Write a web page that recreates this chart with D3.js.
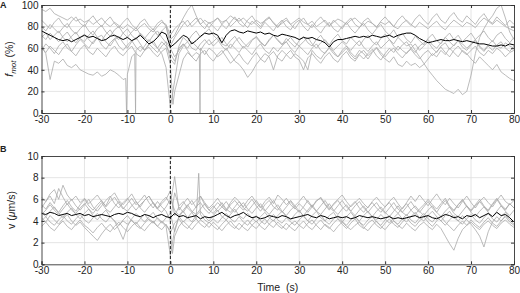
<!DOCTYPE html>
<html>
<head>
<meta charset="utf-8">
<script src="https://d3js.org/d3.v7.min.js"></script>
<style>
  body { margin: 0; background: #fff; }
  text { font-family: Arial, "Liberation Sans", sans-serif; fill: #222; }
</style>
</head>
<body>
<script>
// sample times (s), one value per second
const time = d3.range(-30, 81);
const xTicks = [-30, -20, -10, 0, 10, 20, 30, 40, 50, 60, 70, 80];
const fmotTicks = [0, 20, 40, 60, 80, 100];
const vTicks = [0, 2, 4, 6, 8, 10];

// panel A: fraction motile (%) per cell
const fmotCell1 = [96,94,97,92,90,88,86,89,85,87, 84,86,82,85,88,83,80,84,81,78, 82,79,76,80,83,78,75,80,84,82,
  72,78,82,85,80,84,88,82,86,83, 85,88,84,86,90,87,85,88,84,82, 86,83,85,88,84,80,83,86,82,85,
  88,84,82,85,80,83,86,81,84,87, 85,82,86,88,84,81,85,83,80,84, 82,85,80,78,83,86,82,79,84,81,
  78,82,85,80,77,82,86,83,80,84, 82,79,84,88,85,82,86,83,80,78, 76];
const fmotCell2 = [62,55,31,48,46,50,44,42,45,40, 38,36,35,38,34,36,40,38,35,31, 36,52,58,62,58,64,60,56,62,66,
  60,52,58,64,60,66,62,58,64,68, 62,66,70,64,60,66,70,65,61,67, 71,66,62,68,72,67,63,69,65,61,
  67,71,65,62,68,72,66,63,69,73, 67,64,70,66,62,68,72,66,63,69, 73,68,64,70,74,68,65,71,67,63,
  69,73,67,64,70,74,68,72,66,70, 74,68,72,76,70,66,72,75,69,65, 70];
const fmotCell3 = [72,68,74,70,66,71,75,69,65,70, 73,68,64,70,72,66,62,68,71,65, 60,66,70,64,58,63,67,60,55,42,
  5,30,55,62,66,60,58,64,68,63, 66,70,64,62,67,71,65,60,64,68, 70,65,62,67,72,68,64,66,70,65,
  62,66,70,64,60,65,68,63,58,62, 66,62,58,63,67,61,57,62,66,60, 64,68,62,58,63,66,60,56,62,65,
  68,63,60,65,70,66,62,67,64,60, 64,68,62,58,63,67,62,60,65,62, 60];
const fmotCell4 = [58,64,60,55,62,66,60,57,63,68, 64,60,66,70,63,59,65,69,62,58, 63,67,61,57,62,68,64,60,66,62,
  55,48,60,64,58,52,56,60,54,60, 57,52,55,60,54,48,45,40,33,38, 45,50,55,52,40,53,58,54,50,55,
  52,48,40,58,53,50,56,60,55,52, 56,60,54,50,55,58,53,57,61,56, 52,57,60,55,51,56,59,54,50,55,
  58,53,57,61,56,52,58,62,57,54, 58,62,56,53,58,55,60,57,52,56, 58];
const fmotCell5 = [80,76,82,78,74,79,83,77,73,78, 82,76,72,78,81,75,71,77,80,74, 70,75,79,73,69,74,78,72,76,80,
  68,72,80,88,95,100,90,82,78,84, 80,76,82,86,80,84,88,83,79,85, 82,78,84,80,76,82,86,80,77,83,
  86,80,76,82,78,74,80,84,78,75, 80,84,78,74,79,83,77,73,78,82, 76,72,77,70,66,62,64,58,52,46,
  40,35,30,26,22,20,18,22,17,20, 35,55,70,78,85,90,97,100,88,75, 68];
const fmotCell6 = [70,74,68,72,76,70,66,71,75,69, 66,72,76,70,67,73,77,71,68,74, 78,72,68,74,70,66,72,76,70,65,
  50,45,62,70,66,72,76,70,74,78, 72,68,62,58,64,60,56,62,58,54, 60,64,58,55,61,57,62,66,60,56,
  62,58,54,60,64,58,55,61,57,52, 58,62,56,52,58,55,50,56,60,54, 50,47,52,45,43,48,44,46,42,45,
  50,55,52,58,54,60,56,52,58,55, 50,46,52,48,44,40,45,38,35,32, 30];
const fmotCell7 = [60,56,62,58,54,60,64,57,53,59, 63,57,54,60,56,52,58,62,56,53, 58,62,55,52,58,61,56,52,57,60,
  45,20,35,50,56,52,48,55,58,52, 48,54,58,52,46,50,55,49,45,51, 56,50,47,53,57,51,48,54,58,52,
  49,40,51,55,50,46,52,56,50,47, 53,57,51,48,54,50,55,59,53,49, 55,60,56,62,58,55,60,64,58,62,
  66,60,56,62,65,59,63,67,61,58, 63,67,61,57,62,58,63,66,60,57, 62];
const fmotCell8 = [86,82,78,84,88,82,79,85,89,83, 80,86,90,84,80,85,89,83,79,84, 88,82,78,84,87,81,77,83,86,80,
  62,70,76,82,86,80,84,88,83,79, 84,88,82,78,84,89,83,80,86,90, 84,80,86,89,83,79,85,88,82,78,
  84,88,82,79,85,89,84,80,86,82, 78,84,88,82,79,85,88,83,79,85, 89,84,80,86,90,85,81,87,91,86,
  82,88,92,86,83,89,93,87,84,90, 86,82,88,92,86,83,89,85,81,86, 82];
const fmotMean = [76,74,72,70,68,67,68,66,68,70, 72,70,71,69,67,68,71,72,70,68, 70,67,69,72,68,64,66,70,75,73,
  61,64,68,72,70,64,67,71,74,73, 74,72,65,72,76,77,75,74,76,75, 74,75,73,74,72,71,73,72,71,70,
  68,70,69,70,68,67,65,61,66,68, 68,69,70,71,70,71,70,72,71,70, 71,72,70,72,73,74,74,72,69,67,
  65,66,67,68,67,67,68,67,66,67, 66,65,64,64,63,62,62,63,62,64, 63];
// short drops between samples: [cell index, time, value]
const fmotSpikes = [[1,-10.4,32],[1,-10.2,0],[1,-8.3,55],[1,-8.1,0],[3,6.75,54],[3,6.9,0],[6,0.6,8]];

// panel B: swimming speed (um/s) per cell
const vCell1 = [6.2,5.8,6.5,6.9,6.0,7.3,6.4,5.9,6.3,5.7, 6.1,5.6,6.0,6.4,5.8,5.4,6.2,6.6,5.9,5.5, 6.0,6.5,5.8,5.3,5.9,6.3,5.7,5.2,5.8,6.2,
  5.5,8.1,5.0,5.6,6.1,5.5,5.9,6.3,5.7,5.2, 5.6,6.1,5.5,5.0,5.7,6.2,5.8,5.3,5.9,6.3, 5.7,5.2,5.8,6.2,5.6,6.4,6.0,5.5,5.9,5.4,
  5.8,6.3,5.7,5.3,5.9,6.1,5.5,5.0,5.6,6.0, 6.4,5.8,5.3,5.7,6.1,5.6,5.2,5.8,6.2,5.7, 5.3,5.8,6.2,5.6,5.1,5.7,6.3,5.8,6.4,5.9,
  5.4,6.0,6.5,5.9,5.5,6.1,5.6,5.2,5.8,6.3, 5.7,5.2,5.8,6.2,5.7,5.3,5.9,6.4,5.8,5.5, 5.9];
const vCell2 = [4.3,3.9,4.5,4.1,3.7,4.2,4.6,4.0,3.6,3.9, 3.4,3.0,2.6,2.2,2.8,3.3,3.7,3.2,3.6,4.0, 3.7,4.1,3.6,3.3,3.8,4.2,3.9,3.5,4.0,3.6,
  3.1,2.6,3.5,4.0,3.6,3.2,3.7,4.1,3.8,3.4, 3.9,3.5,3.1,3.6,4.0,3.5,3.2,3.7,4.1,3.6, 3.3,3.8,4.2,3.7,3.4,3.9,3.5,3.2,3.7,4.0,
  3.6,3.3,3.8,4.1,3.6,3.2,3.7,3.4,3.0,3.5, 3.9,3.5,3.2,3.6,3.9,3.4,3.1,3.6,4.0,3.5, 3.2,3.7,4.0,3.6,3.3,3.8,3.4,3.1,3.6,3.9,
  3.5,3.2,3.7,3.3,2.6,1.9,1.3,2.4,3.2,3.6, 3.9,3.5,3.2,3.7,4.0,3.6,3.3,3.8,4.1,3.7, 3.4];
const vCell3 = [4.8,4.4,4.9,5.3,4.7,4.3,4.8,5.2,4.6,4.2, 4.7,5.1,4.5,4.1,4.6,5.0,4.4,4.0,3.2,2.3, 3.5,4.2,4.7,4.3,3.9,4.4,4.8,4.2,3.8,4.3,
  4.7,3.0,4.4,4.9,4.3,3.9,4.5,4.9,4.4,4.0, 4.5,5.0,4.4,4.1,4.6,5.1,4.5,4.2,4.7,4.3, 3.9,4.4,4.8,4.3,4.0,4.5,4.9,4.4,4.1,4.6,
  5.0,4.4,4.0,4.5,4.9,4.3,4.0,4.5,4.8,4.2, 3.9,4.4,4.8,4.3,4.0,4.5,4.9,4.4,4.1,4.6, 4.2,3.8,4.3,4.7,4.2,3.9,4.4,4.8,4.3,4.0,
  4.5,4.9,4.4,4.0,4.5,4.9,4.3,4.0,4.5,4.1, 3.7,3.2,2.6,1.6,3.0,3.9,4.4,4.0,4.5,4.1, 3.7];
const vCell4 = [5.5,5.1,5.7,5.2,4.8,5.4,5.9,5.3,4.9,5.5, 6.0,5.4,5.0,5.5,5.9,5.3,5.8,6.2,5.6,5.1, 5.6,6.1,5.5,5.9,6.4,5.7,5.2,5.8,5.3,4.9,
  4.0,6.6,5.4,5.8,5.2,4.8,5.3,5.7,5.1,4.7, 5.2,5.7,5.3,4.9,5.5,5.9,5.4,5.0,5.5,6.0, 5.4,4.9,5.5,5.9,5.3,5.0,5.6,6.1,5.5,5.1,
  5.6,5.2,4.8,5.3,5.8,6.2,5.6,5.1,5.5,5.9, 5.3,4.9,5.4,5.8,5.2,4.8,5.3,5.7,5.2,4.8, 5.3,5.7,5.1,4.7,5.2,5.6,5.0,4.6,5.1,5.5,
  6.0,5.5,5.1,5.6,6.1,5.4,5.0,5.5,5.9,5.3, 4.9,5.4,5.8,5.3,4.9,5.5,6.0,5.4,5.0,5.6, 5.2];
const vCell5 = [4.0,4.4,3.9,3.6,4.1,4.5,4.0,3.7,4.2,4.6, 4.1,3.8,4.3,4.7,4.2,3.9,4.4,4.0,3.6,4.1, 4.5,4.0,3.7,4.2,4.6,4.1,3.8,4.3,3.9,3.5,
  0.8,3.2,4.4,3.9,4.3,4.8,4.2,4.6,4.1,3.8, 4.2,3.8,4.3,4.7,4.2,3.9,4.4,3.9,3.6,4.1, 4.5,4.0,3.7,4.2,4.6,4.1,3.8,4.3,3.9,3.6,
  4.1,4.5,4.0,3.7,4.2,4.6,4.0,3.7,4.2,4.5, 4.0,3.6,4.1,4.5,3.9,3.6,4.1,4.4,3.9,3.6, 4.1,4.5,4.0,3.7,4.2,4.6,4.1,3.8,4.3,4.7,
  4.2,3.9,4.4,4.0,3.6,4.1,4.5,4.0,3.7,4.2, 4.6,4.1,3.8,4.3,4.7,4.2,3.9,4.4,4.8,4.3, 3.9];
const vCell6 = [5.2,5.8,6.3,5.6,7.0,6.2,5.5,6.0,5.4,5.0, 5.5,6.0,5.3,4.9,5.4,5.9,6.3,5.6,5.2,5.7, 6.1,5.5,5.0,5.5,5.9,6.3,5.6,5.1,5.6,6.0,
  6.8,4.5,5.3,4.8,5.4,5.9,5.2,6.3,5.5,5.0, 5.4,4.9,5.3,5.8,5.2,4.8,5.3,5.7,5.1,4.7, 5.2,5.6,5.0,4.6,5.1,5.5,4.9,4.5,5.0,5.4,
  4.9,4.5,5.0,5.5,4.9,4.6,5.1,5.6,5.0,4.6, 5.1,5.5,4.9,4.5,5.0,5.4,4.8,4.4,4.9,5.3, 4.8,4.4,4.9,5.4,4.8,4.5,5.0,5.4,4.9,4.5,
  5.0,5.4,4.8,4.4,4.9,5.3,4.7,4.4,4.9,5.4, 4.8,4.4,4.9,5.3,4.8,4.4,4.9,5.4,4.9,4.5, 5.0];
const vCell7 = [3.5,3.9,3.4,3.1,3.6,4.0,3.5,3.2,3.7,4.1, 3.6,3.3,2.9,3.4,3.8,3.3,3.0,3.5,3.9,3.4, 3.0,3.5,3.9,3.4,3.1,3.6,4.0,3.5,3.2,3.7,
  2.9,3.8,4.2,3.6,3.3,3.8,4.2,3.7,3.4,3.9, 3.5,3.2,3.7,4.1,3.6,3.3,3.8,3.4,3.1,3.6, 4.0,3.5,3.2,3.7,4.1,3.6,3.3,3.8,3.4,3.1,
  3.6,4.0,3.5,3.2,3.7,4.1,3.6,3.3,3.8,4.2, 3.7,3.3,3.8,4.2,3.6,3.3,3.8,4.1,3.6,3.3, 3.8,4.2,3.7,3.4,3.9,4.3,3.8,3.5,4.0,4.4,
  3.9,3.5,4.0,4.4,3.9,3.5,3.1,3.6,4.0,3.6, 4.1,3.7,3.4,3.9,4.3,3.8,3.5,4.0,4.4,3.9, 3.6];
const vCell8 = [4.6,5.0,5.5,5.0,4.6,5.1,5.6,5.0,4.7,5.2, 5.6,5.1,4.7,5.2,5.7,5.1,4.8,5.3,5.8,5.2, 4.9,5.4,5.8,5.2,4.8,5.3,5.7,5.1,4.8,5.3,
  6.0,5.0,4.5,5.0,5.5,4.9,4.6,5.1,5.6,5.0, 4.7,5.2,5.7,5.1,4.8,5.3,5.8,5.2,4.9,5.4, 5.9,5.3,4.9,5.4,5.9,5.2,4.8,5.3,5.8,5.2,
  4.8,5.3,5.9,5.3,4.9,5.4,5.9,5.3,4.9,5.4, 5.9,5.3,4.9,5.4,5.8,5.2,4.8,5.3,5.7,5.1, 4.7,5.2,5.7,5.1,4.8,5.3,5.8,5.2,4.8,5.3,
  5.8,5.2,4.8,5.4,5.9,5.3,4.9,5.5,6.0,5.4, 5.0,5.5,6.0,5.4,5.0,5.6,6.1,5.5,5.1,5.6, 5.2];
const vMean = [4.7,4.6,4.8,4.7,4.5,4.6,4.7,4.5,4.6,4.7, 4.5,4.6,4.4,4.5,4.6,4.5,4.4,4.6,4.7,4.6, 4.8,4.7,4.5,4.4,4.6,4.5,4.3,4.5,4.6,4.4,
  4.3,4.7,4.4,4.5,4.3,4.4,4.5,4.2,4.4,4.3, 4.4,4.6,4.8,4.5,4.3,4.5,4.6,4.8,4.5,4.3, 4.4,4.2,4.3,4.5,4.4,4.3,4.5,4.4,4.2,4.3,
  4.4,4.5,4.6,4.4,4.3,4.5,4.4,4.2,4.3,4.4, 4.3,4.4,4.2,4.3,4.5,4.4,4.3,4.4,4.3,4.2, 4.3,4.4,4.2,4.3,4.2,4.3,4.4,4.5,4.3,4.4,
  4.5,4.3,4.2,4.4,4.6,4.5,4.3,4.4,4.2,4.5, 4.4,4.6,4.3,4.5,4.7,4.4,4.8,4.5,4.6,4.3, 3.9];
const vSpikes = [[4,6.6,8.4],[1,0.5,1.0]];

const fmotCells = [fmotCell1, fmotCell2, fmotCell3, fmotCell4, fmotCell5, fmotCell6, fmotCell7, fmotCell8];
const vCells = [vCell1, vCell2, vCell3, vCell4, vCell5, vCell6, vCell7, vCell8];

const width = 520, height = 293;
const left = 41.5, right = 514;

const svg = d3.select("body").append("svg")
  .attr("width", width)
  .attr("height", height);

const x = d3.scaleLinear().domain([-30, 80]).range([left, right]);

function toPoints(values, spikes, idx) {
  const pts = values.map((v, i) => [time[i], v]);
  spikes.filter(s => s[0] === idx).forEach(s => pts.push([s[1], s[2]]));
  return pts.sort((a, b) => a[0] - b[0]);
}

function drawPanel(top, bottom, yMax, yTicks, cells, mean, spikes, clipId) {
  const y = d3.scaleLinear().domain([0, yMax]).range([bottom, top]);
  const g = svg.append("g");

  // grid
  g.append("g").selectAll("line").data(xTicks.slice(1, -1)).join("line")
    .attr("x1", d => x(d)).attr("x2", d => x(d))
    .attr("y1", top).attr("y2", bottom)
    .attr("stroke", "#dedede").attr("stroke-width", 0.8);
  g.append("g").selectAll("line").data(yTicks.slice(1, -1)).join("line")
    .attr("x1", left).attr("x2", right)
    .attr("y1", d => y(d)).attr("y2", d => y(d))
    .attr("stroke", "#dedede").attr("stroke-width", 0.8);

  svg.append("clipPath").attr("id", clipId).append("rect")
    .attr("x", left).attr("y", top).attr("width", right - left).attr("height", bottom - top);

  const line = d3.line().x(d => x(d[0])).y(d => y(d[1]));
  const traces = g.append("g").attr("clip-path", `url(#${clipId})`);
  traces.selectAll("path.cell").data(cells.map((c, i) => toPoints(c, spikes, i))).join("path")
    .attr("class", "cell")
    .attr("fill", "none")
    .attr("stroke", "#aaaaaa")
    .attr("stroke-width", 0.8)
    .attr("d", line);
  traces.append("path")
    .datum(mean.map((v, i) => [time[i], v]))
    .attr("fill", "none")
    .attr("stroke", "#000")
    .attr("stroke-width", 1)
    .attr("d", line);

  // stimulus onset
  g.append("line")
    .attr("x1", x(0)).attr("x2", x(0)).attr("y1", top).attr("y2", bottom)
    .attr("stroke", "#000").attr("stroke-width", 0.9).attr("stroke-dasharray", "3,2");

  // axes with inward ticks, plain hyphen for negatives
  const fmt = d => String(d);
  g.append("g").attr("transform", `translate(0,${bottom})`)
    .call(d3.axisBottom(x).tickValues(xTicks).tickSize(-3).tickPadding(3).tickFormat(fmt));
  g.append("g").attr("transform", `translate(0,${top})`)
    .call(d3.axisTop(x).tickValues(xTicks).tickSize(-3).tickFormat(""));
  g.append("g").attr("transform", `translate(${left},0)`)
    .call(d3.axisLeft(y).tickValues(yTicks).tickSize(-3).tickPadding(3).tickFormat(fmt));
  g.append("g").attr("transform", `translate(${right},0)`)
    .call(d3.axisRight(y).tickValues(yTicks).tickSize(-3).tickFormat(""));
  g.selectAll(".domain").attr("stroke", "#333").attr("stroke-width", 0.9);
  g.selectAll(".tick line").attr("stroke", "#333");
  g.selectAll(".tick text").attr("font-size", 10).attr("fill", "#222");
  return g;
}

drawPanel(5, 113, 100, fmotTicks, fmotCells, fmotMean, fmotSpikes, "clipA");
drawPanel(156, 264.3, 10, vTicks, vCells, vMean, vSpikes, "clipB");

// panel letters
svg.append("text").attr("x", 0).attr("y", 8).attr("font-size", 9).attr("font-weight", "bold").text("A");
svg.append("text").attr("x", 0).attr("y", 152).attr("font-size", 9).attr("font-weight", "bold").text("B");

// y labels
const la = svg.append("text")
  .attr("transform", "translate(13,59) rotate(-90)")
  .attr("text-anchor", "middle").attr("font-size", 10.5);
la.append("tspan").attr("font-style", "italic").text("f");
la.append("tspan").attr("font-style", "italic").attr("font-size", 8).attr("dy", 3).text("mot");
la.append("tspan").attr("dy", -3).text(" (%)");

const lb = svg.append("text")
  .attr("transform", "translate(15,210) rotate(-90)")
  .attr("text-anchor", "middle").attr("font-size", 10.5);
lb.append("tspan").text("v  (");
lb.append("tspan").attr("font-style", "italic").text("\u03bc");
lb.append("tspan").text("m/s)");

svg.append("text")
  .attr("x", (left + right) / 2).attr("y", 291)
  .attr("text-anchor", "middle").attr("font-size", 10.5)
  .attr("xml:space", "preserve")
  .text("Time  (s)");
</script>
</body>
</html>
